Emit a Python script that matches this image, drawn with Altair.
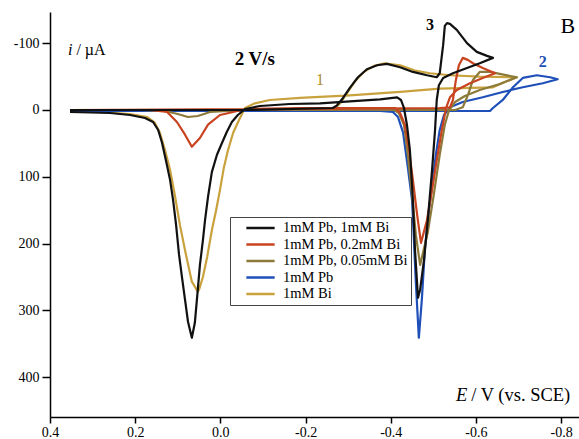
import altair as alt
import pandas as pd

series_names = ["1mM Pb, 1mM Bi", "1mM Pb, 0.2mM Bi", "1mM Pb, 0.05mM Bi", "1mM Pb", "1mM Bi"]
series_colors = ["#111111", "#C8431F", "#8C7A3A", "#1F4FB8", "#C9A23E"]

# 1mM Pb, 1mM Bi (black): forward scan then return scan
E_pb1_bi1 = [0.353, -0.069, -0.264, -0.274, -0.288, -0.304, -0.323, -0.344, -0.368, -0.391, -0.422, -0.452, -0.485, -0.508,
             -0.515, -0.523, -0.527, -0.532, -0.539, -0.555, -0.579, -0.602, -0.626, -0.640,
             -0.609, -0.579, -0.546, -0.523, -0.513, -0.508, -0.504, -0.497, -0.487, -0.478, -0.469, -0.464,
             -0.457, -0.452, -0.445, -0.438, -0.431, -0.424, -0.415, -0.375, -0.304, -0.234, -0.163, -0.093,
             -0.058, -0.041, -0.027, -0.015, -0.004, 0.008, 0.020, 0.029, 0.036, 0.041, 0.048, 0.053, 0.060, 0.067,
             0.076, 0.083, 0.090, 0.097, 0.104, 0.111, 0.118, 0.128, 0.137, 0.146, 0.158, 0.177, 0.212, 0.259, 0.353]
I_pb1_bi1 = [0, 0, -3, -7, -18, -33, -49, -61, -67, -69, -64, -57, -52, -49,
             -55, -97, -126, -130, -129, -120, -100, -87, -81, -78,
             -70, -63, -55, -48, -37, -15, 30, 90, 165, 225, 269, 281,
             210, 135, 60, 22, -3, -15, -19, -16, -13, -10, -9, -6,
             -1.5, 7.5, 18, 33, 49, 67, 93, 130, 165, 195, 232, 269, 319, 341,
             317, 284, 251, 217, 172, 135, 105, 75, 49, 30, 18, 12, 7.5, 4.5, 3]

# 1mM Pb, 0.2mM Bi (red)
E_pb1_bi02 = [0.353, -0.187, -0.515, -0.539, -0.546, -0.553, -0.560, -0.569, -0.581, -0.593, -0.616, -0.645,
              -0.616, -0.586, -0.555, -0.539, -0.530, -0.520, -0.508, -0.497, -0.485, -0.471,
              -0.462, -0.452, -0.443, -0.433, -0.422, -0.410, -0.187, -0.058,
              -0.030, 0.001, 0.029, 0.048, 0.067, 0.083, 0.102, 0.125, 0.165, 0.353]
I_pb1_bi02 = [0, -1.5, -3, -4, -15, -45, -67, -78, -75, -70, -63, -55,
              -48, -40, -30, -19, -3, 30, 75, 120, 165, 199,
              157, 105, 60, 22, 4.5, -3, -3, -1.5,
              3, 7.5, 22, 42, 55, 37, 18, 3, 0, 0]

# 1mM Pb, 0.05mM Bi (olive)
E_pb1_bi005 = [0.353, -0.551, -0.569, -0.581, -0.593, -0.609, -0.633, -0.656, -0.696,
               -0.656, -0.609, -0.574, -0.551, -0.537, -0.527, -0.515, -0.501, -0.487, -0.469,
               -0.459, -0.450, -0.440, -0.431, -0.419, -0.408, -0.058,
               0.024, 0.053, 0.076, 0.100, 0.130, 0.189, 0.353]
I_pb1_bi005 = [0, 0, -4, -22, -45, -57, -57, -54, -49,
               -39, -30, -21, -12, 0, 22, 67, 127, 183, 232,
               187, 127, 67, 22, 4.5, 0, 0,
               3, 9, 10.5, 6, 1.5, 0, 0]

# 1mM Pb (blue)
E_pb1 = [0.353, -0.633, -0.640, -0.663, -0.687, -0.710, -0.743, -0.774, -0.792,
         -0.757, -0.710, -0.663, -0.616, -0.569, -0.539, -0.525, -0.515, -0.506, -0.497, -0.487, -0.480, -0.473, -0.466,
         -0.459, -0.452, -0.450, -0.440, -0.429, -0.417, -0.405, -0.375, 0.353]
I_pb1 = [1.5, 1.5, -3, -15, -34, -48, -52, -49, -46,
         -40, -34, -27, -19, -12, -4, 7.5, 30, 67, 112, 165, 210, 284, 341,
         259, 160, 135, 85, 34, 10.5, 3, 1.5, 1.5]

# 1mM Bi (gold)
E_bi1 = [0.353, -0.257, -0.269, -0.281, -0.297, -0.316, -0.337, -0.361, -0.386, -0.422, -0.457, -0.492, -0.539, -0.609, -0.696,
         -0.668, -0.640, -0.586, -0.515, -0.422, -0.304, -0.187, -0.116, -0.081, -0.058,
         -0.046, -0.030, -0.018, -0.008, 0.001, 0.010, 0.020, 0.031, 0.041, 0.050, 0.053,
         0.067, 0.083, 0.095, 0.107, 0.118, 0.130, 0.142, 0.154, 0.172, 0.212, 0.283, 0.353]
I_bi1 = [0, 0, -3, -10, -25, -43, -57, -66, -70, -67, -59, -55, -52, -50, -49,
         -42, -34, -33, -32, -27, -22, -18, -15, -10, -3,
         12, 34, 60, 87, 120, 150, 180, 220, 250, 269, 272,
         257, 210, 172, 127, 90, 60, 34, 19, 10.5, 6, 3, 1.5]

x_ticks = [0.4, 0.2, 0.0, -0.2, -0.4, -0.6, -0.8]
y_ticks = [-100, 0, 100, 200, 300, 400]

curves = {
    "1mM Pb, 1mM Bi": (E_pb1_bi1, I_pb1_bi1),
    "1mM Pb, 0.2mM Bi": (E_pb1_bi02, I_pb1_bi02),
    "1mM Pb, 0.05mM Bi": (E_pb1_bi005, I_pb1_bi005),
    "1mM Pb": (E_pb1, I_pb1),
    "1mM Bi": (E_bi1, I_bi1),
}

frames = []
for name, (ev, iv) in curves.items():
    frames.append(pd.DataFrame({"E": ev, "I": iv, "series": name, "k": list(range(len(ev)))}))
df = pd.concat(frames, ignore_index=True)

serif = "Liberation Serif"

x_scale = alt.Scale(domain=[-0.842, 0.4], reverse=True, nice=False, zero=False)
y_scale = alt.Scale(domain=[-146.7, 459.6], reverse=True, nice=False, zero=False)

x_axis = alt.Axis(values=x_ticks, title=None, grid=False, domainColor="black", domainWidth=1.5,
                  tickColor="black", tickWidth=1.5, tickSize=6, labelFont=serif, labelFontSize=14,
                  labelColor="black", labelPadding=2, labelFlush=False,
                  labelExpr="datum.value < 0 ? '-' + format(-datum.value, '.1f') : format(datum.value, '.1f')")
y_axis = alt.Axis(values=y_ticks, title=None, grid=False, domainColor="black", domainWidth=1.5,
                  tickColor="black", tickWidth=1.5, tickSize=8, labelFont=serif, labelFontSize=14,
                  labelColor="black", labelPadding=3, labelFlush=False,
                  labelExpr="datum.value < 0 ? '-' + format(-datum.value, 'd') : format(datum.value, 'd')")

legend = alt.Legend(title=None, orient="none", legendX=180, legendY=205, direction="vertical",
                    symbolType="stroke", symbolSize=800, symbolStrokeWidth=2.5, clipHeight=16,
                    rowPadding=0.5, labelFont=serif, labelFontSize=14.5, labelColor="black",
                    strokeColor="#444444", fillColor="white", padding=3, labelOffset=7,
                    symbolOffset=12, labelLimit=200)

color_enc = alt.Color("series:N", scale=alt.Scale(domain=series_names, range=series_colors),
                      sort=series_names, legend=legend)

layers = []
for name in ["1mM Bi", "1mM Pb", "1mM Pb, 0.05mM Bi", "1mM Pb, 0.2mM Bi", "1mM Pb, 1mM Bi"]:
    layers.append(
        alt.Chart(df[df["series"] == name]).mark_line(strokeWidth=2.2, strokeJoin="round").encode(
            x=alt.X("E:Q", scale=x_scale, axis=x_axis),
            y=alt.Y("I:Q", scale=y_scale, axis=y_axis),
            color=color_enc,
            order="k:Q",
        )
    )

# annotations (data coordinates)
ann_text = ["i", "/ µA", "2 V/s", "1", "3", "2", "B", "E", "/ V (vs. SCE)"]
ann_E = [0.358, 0.338, -0.081, -0.234, -0.492, -0.757, -0.816, -0.553, -0.589]
ann_I = [-82, -82, -67, -37, -120, -64, -115, 436, 436]
ann = pd.DataFrame({"E": ann_E, "I": ann_I, "t": ann_text})

styles = {
    "i": dict(fontSize=16, fontStyle="italic", align="left", color="black"),
    "/ µA": dict(fontSize=16, align="left", color="black"),
    "2 V/s": dict(fontSize=19, fontWeight="bold", align="center", color="black"),
    "1": dict(fontSize=16, align="center", color="#B08A2C"),
    "3": dict(fontSize=16, fontWeight="bold", align="center", color="black"),
    "2": dict(fontSize=16, fontWeight="bold", align="center", color="#1F4FB8"),
    "B": dict(fontSize=22, align="center", color="black"),
    "E": dict(fontSize=18.5, fontStyle="italic", align="left", color="black"),
    "/ V (vs. SCE)": dict(fontSize=18.5, align="left", color="black"),
}
for t, st in styles.items():
    layers.append(
        alt.Chart(ann[ann["t"] == t]).mark_text(font=serif, baseline="alphabetic", **st).encode(
            x=alt.X("E:Q", scale=x_scale, axis=x_axis),
            y=alt.Y("I:Q", scale=y_scale, axis=y_axis),
            text="t:N",
        )
    )

chart = alt.layer(*layers).properties(
    width=529, height=405,
    autosize=alt.AutoSizeParams(type="none"),
    padding={"left": 50, "top": 12, "right": 0, "bottom": 22},
    background="white",
).configure_view(stroke=None)

chart.save("out.html", embed_options={"renderer": "svg", "actions": False})
